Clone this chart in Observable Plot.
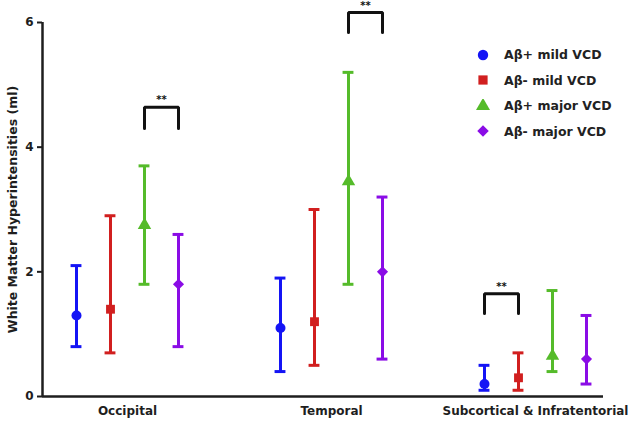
<!DOCTYPE html>
<html><head><meta charset="utf-8">
<script src="https://cdn.jsdelivr.net/npm/d3@7"></script>
<script src="https://cdn.jsdelivr.net/npm/@observablehq/plot@0.6"></script>
<style>
body{margin:0;background:#fff;}
#wrap{position:relative;width:636px;height:423px;}
#legend{position:absolute;left:476px;top:42px;font:bold 12.5px "DejaVu Sans",sans-serif;color:#222}
.row{display:flex;align-items:center;height:25.5px;white-space:nowrap}
.row svg{margin-right:14px}
</style></head><body><div id="wrap"><div id="legend"></div></div>
<script>
const regions = ["Occipital", "Temporal", "Subcortical & Infratentorial"];
const groups = ["Aβ+ mild VCD", "Aβ- mild VCD", "Aβ+ major VCD", "Aβ- major VCD"];
const colors = ["#1414f5", "#d11f1f", "#55bb2a", "#8a0ce6"];
const symbols = ["circle", "square", "triangle", "diamond2"];
const means = [[1.3, 1.4, 2.75, 1.8], [1.1, 1.2, 3.45, 2.0], [0.2, 0.3, 0.65, 0.6]];
const lows  = [[0.8, 0.7, 1.8, 0.8], [0.4, 0.5, 1.8, 0.6], [0.1, 0.1, 0.4, 0.2]];
const highs = [[2.1, 2.9, 3.7, 2.6], [1.9, 3.0, 5.2, 3.2], [0.5, 0.7, 1.7, 1.3]];
const yTicks = [0, 2, 4, 6];
// significance brackets
const sigRegion = [0, 1, 2];
const sigFrom = [2, 2, 0];
const sigTo = [3, 3, 1];
const sigTop = [4.64, 6.16, 1.65];
const sigLeg = [4.3, 5.84, 1.33];
const sigLabel = ["**", "**", "**"];

const slot = (r, s) => r * 6 + s;
const rows = regions.flatMap((reg, r) => groups.map((g, s) => ({
  region: reg, group: g, pos: slot(r, s), mean: means[r][s], lo: lows[r][s], hi: highs[r][s]
})));
const bracketPts = sigRegion.flatMap((r, k) => {
  const a = slot(r, sigFrom[k]), b = slot(r, sigTo[k]);
  return [{k, x: a, y: sigLeg[k]}, {k, x: a, y: sigTop[k]}, {k, x: b, y: sigTop[k]}, {k, x: b, y: sigLeg[k]}];
});
const starData = sigRegion.map((r, k) => ({x: (slot(r, sigFrom[k]) + slot(r, sigTo[k])) / 2, y: sigTop[k], t: sigLabel[k]}));
const centers = regions.map((_, r) => slot(r, 1.5));
const capW = 0.16;
const ink = "#1e1e1e";

const chart = Plot.plot({
  width: 636, height: 423,
  marginLeft: 42, marginRight: 33, marginTop: 22, marginBottom: 27,
  style: {fontFamily: "DejaVu Sans, sans-serif", fontWeight: "bold", fontSize: "12px", color: ink, background: "white"},
  x: {domain: [-1, 15.5]},
  y: {domain: [0, 6]},
  color: {domain: groups, range: colors},
  symbol: {domain: groups, range: symbols},
  marks: [
    Plot.ruleY([0], {x1: -1, x2: 15.5, stroke: ink, strokeWidth: 2.5}),
    Plot.ruleX([-1], {y1: 0, y2: 6, stroke: ink, strokeWidth: 2.5}),
    Plot.axisY({ticks: yTicks, tickFormat: d3.format("d"), tickSize: 5, tickPadding: 4, stroke: ink, strokeWidth: 2, fontSize: 12,
      label: null}),
    Plot.axisY({ticks: [], tickSize: 0, label: "White Matter Hyperintensities (ml)", labelAnchor: "center", labelArrow: "none", labelOffset: 34, fontSize: 12.5}),
    Plot.axisX({ticks: centers, tickSize: 0, tickPadding: 10, tickFormat: (d) => regions[centers.indexOf(d)], label: null, fontSize: 12}),
    Plot.ruleX(rows, {x: "pos", y1: "lo", y2: "hi", stroke: "group", strokeWidth: 3}),
    Plot.ruleY(rows, {y: "hi", x1: (d) => d.pos - capW, x2: (d) => d.pos + capW, stroke: "group", strokeWidth: 3}),
    Plot.ruleY(rows, {y: "lo", x1: (d) => d.pos - capW, x2: (d) => d.pos + capW, stroke: "group", strokeWidth: 3}),
    Plot.dot(rows, {x: "pos", y: "mean", fill: "group", symbol: "group", r: 5}),
    Plot.line(bracketPts, {x: "x", y: "y", z: "k", stroke: "#111", strokeWidth: 3, strokeLinecap: "round", strokeLinejoin: "miter"}),
    Plot.text(starData, {x: "x", y: "y", text: "t", dy: -7, fontSize: 10, fill: "#111"})
  ]
});
document.getElementById("wrap").prepend(chart);

const symMap = {circle: d3.symbolCircle, square: d3.symbolSquare, triangle: d3.symbolTriangle, diamond2: d3.symbolDiamond2};
const leg = d3.select("#legend");
groups.forEach((g, i) => {
  const row = leg.append("div").attr("class", "row");
  const s = row.append("svg").attr("width", 14).attr("height", 14);
  s.append("path").attr("transform", "translate(7,7)")
    .attr("d", d3.symbol(symMap[symbols[i]], 85)()).attr("fill", colors[i]);
  row.append("span").text(g);
});
</script>
</body></html>
